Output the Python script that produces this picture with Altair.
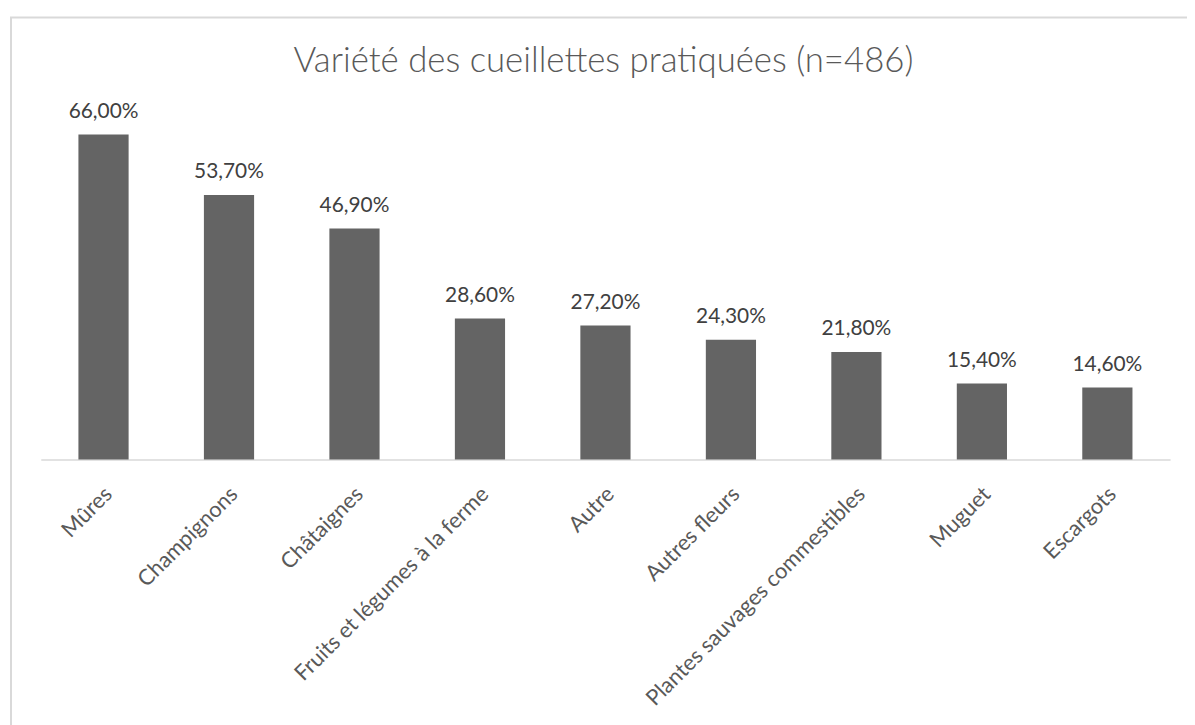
import altair as alt
import pandas as pd

categories = ["Mûres", "Champignons", "Châtaignes", "Fruits et légumes à la ferme",
              "Autre", "Autres fleurs", "Plantes sauvages commestibles", "Muguet", "Escargots"]
values = [66.0, 53.7, 46.9, 28.6, 27.2, 24.3, 21.8, 15.4, 14.6]
labels = ["66,00%", "53,70%", "46,90%", "28,60%", "27,20%", "24,30%", "21,80%", "15,40%", "14,60%"]
title_text = "Variété des cueillettes pratiquées (n=486)"

df = pd.DataFrame({"cat": categories, "val": values, "lab": labels})

W, H = 1137, 347
FONT = "Lato"

x = alt.X("cat:N", sort=categories, title=None,
          scale=alt.Scale(paddingInner=0.6, paddingOuter=0.3),
          axis=alt.Axis(labelAngle=-45, labelAlign="right", labelBaseline="top",
                        labelFont=FONT, labelFontSize=22, labelColor="#595959",
                        labelPadding=24, labelOffset=-2, ticks=False, domainColor="#d9d9d9",
                        domainWidth=1.5, labelLimit=400))
y = alt.Y("val:Q", scale=alt.Scale(domain=[0, 70]), axis=None)

base = alt.Chart(df)
bars = base.mark_bar(color="#646464").encode(x=x, y=y)
text = base.mark_text(dy=-17, baseline="alphabetic", font=FONT, fontSize=21,
                      color="#404040").encode(x=x, y=y, text="lab:N")

one = alt.Chart(pd.DataFrame({"t": [title_text]}))
border = one.mark_rect(fill=None, stroke="#d9d9d9", strokeWidth=2).encode(
    x=alt.value(-30), x2=alt.value(W + 60), y=alt.value(-98), y2=alt.value(H + 400))
title = one.mark_text(font=FONT, fontSize=35, fontWeight=300, color="#595959",
                      baseline="alphabetic", align="center").encode(
    x=alt.value(W / 2 - 2), y=alt.value(-43), text="t:N")

chart = alt.layer(border, title, bars, text).properties(
    width=W, height=H,
    background="white",
    autosize=alt.AutoSizeParams(type="none"),
    padding={"left": 33, "top": 105, "right": 17, "bottom": 270},
).configure_view(stroke=None)

chart.save("out.html", embed_options={"renderer": "svg", "actions": False})
